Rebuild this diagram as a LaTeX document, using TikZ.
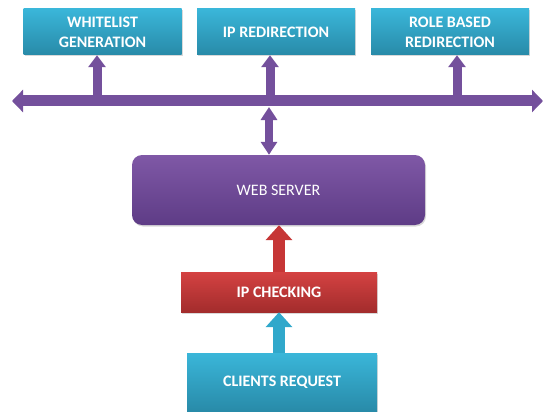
\documentclass[tikz,border=0pt]{standalone}
\usepackage{fontspec}
\setmainfont{Carlito}
\usepackage{tikz}
\usetikzlibrary{arrows.meta,shadows}

\definecolor{tealtop}{RGB}{58,182,217}
\definecolor{tealbot}{RGB}{40,138,168}
\definecolor{purptop}{RGB}{127,88,166}
\definecolor{purpbot}{RGB}{94,60,134}
\definecolor{redtop}{RGB}{212,66,66}
\definecolor{redbot}{RGB}{163,44,44}
\definecolor{purparrow}{RGB}{116,80,156}
\definecolor{redarrow}{RGB}{198,54,54}
\definecolor{tealarrow}{RGB}{48,168,203}

\tikzset{
  box/.style={drop shadow={shadow xshift=1pt,shadow yshift=-1.5pt,opacity=0.3},
    text=white,align=center,inner sep=0pt,
    font=\fontsize{16}{20}\selectfont\bfseries},
  tealbox/.style={box,top color=tealtop,bottom color=tealbot,
    minimum width=158pt,minimum height=46pt},
  purpbox/.style={box,top color=purptop,bottom color=purpbot,rounded corners=10pt,
    font=\fontsize{16}{20}\selectfont},
  redbox/.style={box,top color=redtop,bottom color=redbot},
  busarrow/.style={purparrow,line width=11pt,
    {Triangle[width=22pt,length=11pt]}-{Triangle[width=22pt,length=11pt]}},
  uparrow/.style={purparrow,line width=9pt,-{Triangle[width=17pt,length=12pt]}},
  dblarrow/.style={purparrow,line width=8pt,
    {Triangle[width=16pt,length=13pt]}-{Triangle[width=16pt,length=13pt]}},
  fatarrow/.style={line width=12pt,-{Triangle[width=26pt,length=15pt]}}
}

\begin{document}
\begin{tikzpicture}[x=1pt,y=-1pt]
\useasboundingbox (0,0) rectangle (544,412);

\node[tealbox] (wl) at (102.5,32) {WHITELIST\\GENERATION};
\node[tealbox] (ipr) at (276,32) {IP REDIRECTION};
\node[tealbox] (rbr) at (450,32) {ROLE BASED\\REDIRECTION};

\node[purpbox,minimum width=293pt,minimum height=70pt] (web) at (278.5,190) {WEB SERVER};
\node[redbox,minimum width=196pt,minimum height=40pt] (ipc) at (279,292) {IP CHECKING};
\node[tealbox,minimum width=190pt,minimum height=59pt] (req) at (282,382.5) {CLIENTS REQUEST};

\coordinate (busL) at (12,101);
\coordinate (busR) at (543,101);
\coordinate (t1) at (97,101);
\coordinate (t2) at (270,101);
\coordinate (t3) at (457,101);
\coordinate (busdn) at (269,107);

\draw[busarrow] (busL) -- (busR);
\draw[uparrow] (t1) -- (t1 |- wl.south);
\draw[uparrow] (t2) -- (t2 |- ipr.south);
\draw[uparrow] (t3) -- (t3 |- rbr.south);
\draw[dblarrow] (busdn) -- (busdn |- web.north);

\draw[fatarrow,redarrow] (ipc.north) -- (ipc.north |- web.south);
\draw[fatarrow,tealarrow] (ipc.south |- req.north) -- (ipc.south);
\end{tikzpicture}
\end{document}
